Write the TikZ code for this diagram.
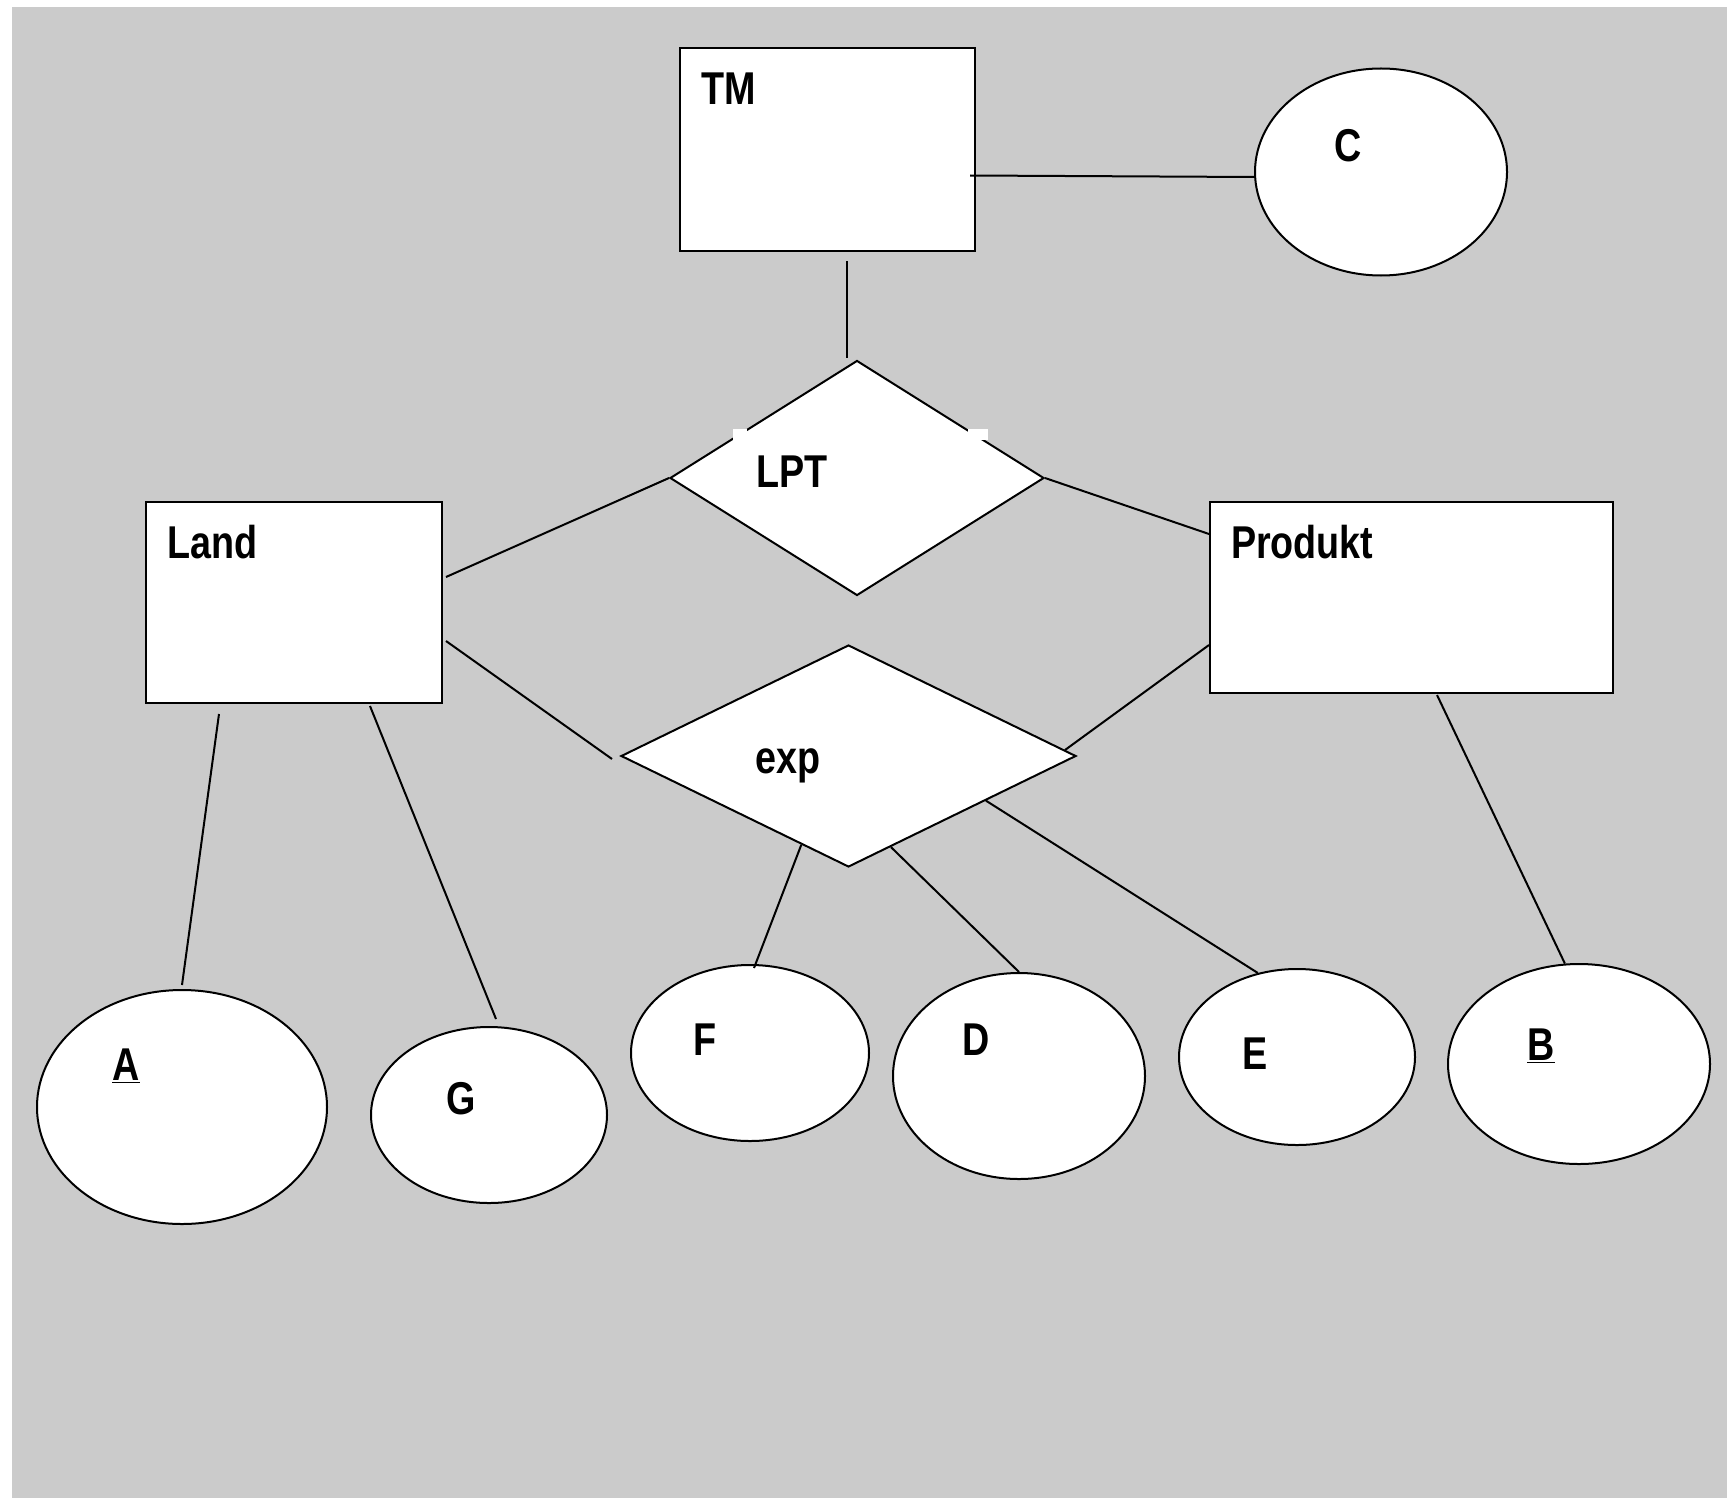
\documentclass[tikz,border=0pt]{standalone}
\usepackage{fontspec}
\newfontfamily\erfont{Liberation Sans}[FakeStretch=0.82]
\usetikzlibrary{shapes.geometric}
\definecolor{bggray}{HTML}{CBCBCB}
\tikzset{
  entity/.style={draw, fill=white, rectangle, inner sep=0pt},
  relation/.style={draw, fill=white, diamond, inner sep=0pt},
  attrib/.style={draw, fill=white, ellipse, inner sep=0pt},
  lbl/.style={inner sep=0pt, font=\erfont\bfseries\fontsize{23pt}{27pt}\selectfont}
}
\begin{document}
\begin{tikzpicture}[x=0.5pt, y=-0.5pt, line width=1pt]
\useasboundingbox (0,0) rectangle (1727,1498);
\fill[white] (0,0) rectangle (1727,1498);
\fill[bggray] (12,7) rectangle (1727,1498);

\node[entity, minimum width=147.5pt, minimum height=101.5pt] (TM) at (827.5,149.5) {};
\node[entity, minimum width=148pt, minimum height=100.5pt] (Land) at (294,602.5) {};
\node[entity, minimum width=201.5pt, minimum height=95.5pt] (Produkt) at (1411.5,597.5) {};
\node[relation, minimum width=187pt, minimum height=117.5pt] (LPT) at (857,478) {};
\node[relation, minimum width=227.5pt, minimum height=111pt] (exp) at (848.5,756) {};
\node[attrib, minimum width=126pt, minimum height=103.5pt] (C) at (1381,172) {};
\node[attrib, minimum width=145pt, minimum height=117pt] (A) at (182,1107) {};
\node[attrib, minimum width=118pt, minimum height=88pt] (G) at (489,1115) {};
\node[attrib, minimum width=119pt, minimum height=88pt] (F) at (750,1053) {};
\node[attrib, minimum width=126pt, minimum height=103pt] (D) at (1019,1076) {};
\node[attrib, minimum width=118pt, minimum height=88pt] (E) at (1297,1057) {};
\node[attrib, minimum width=131pt, minimum height=100pt] (B) at (1579,1064) {};

\fill[white] (733,429) rectangle (747,440);
\fill[white] (968,429) rectangle (988,440);

\node[lbl, anchor=base west] (tTM) at (700,105) {TM};
\node[lbl, anchor=base] (tC) at (1348,162) {C};
\node[lbl, anchor=base] (tLPT) at (792,487) {LPT};
\node[lbl, anchor=base west] (tLand) at (166,558) {Land};
\node[lbl, anchor=base west] (tProdukt) at (1230,558) {Produkt};
\node[lbl, anchor=base] (texp) at (788,773) {exp};
\node[lbl, anchor=base] (tA) at (126,1080) {\underline{A}};
\node[lbl, anchor=base] (tG) at (461.5,1114) {G};
\node[lbl, anchor=base] (tF) at (705,1055) {F};
\node[lbl, anchor=base] (tD) at (976,1055) {D};
\node[lbl, anchor=base] (tE) at (1255.5,1069) {E};
\node[lbl, anchor=base] (tB) at (1541,1060) {\underline{B}};

\draw ([shift={(-3pt,-13pt)}]TM.east) -- ([yshift=-2.5pt]C.west);
\draw ([shift={(9.75pt,-4.5pt)}]TM.south) -- ([xshift=-5pt,yshift=1pt]LPT.north);
\draw (LPT.west) -- ([shift={(1.5pt,12.75pt)}]Land.east);
\draw (LPT.east) -- ([yshift=-16.5pt]Produkt.north west);
\draw ([shift={(1.5pt,-19.25pt)}]Land.east) -- ([shift={(-4pt,-1.5pt)}]exp.west);
\draw ([yshift=-23.75pt]Produkt.west) -- ([shift={(-6pt,3pt)}]exp.east);
\draw (exp.242) -- ([shift={(2pt,-2pt)}]F.north);
\draw (exp.295) -- (D.north);
\draw (exp.342) -- (E.115);
\draw ([shift={(12.75pt,-0.5pt)}]Produkt.south) -- (B.98);
\draw ([shift={(-37.5pt,-5pt)}]Land.south) -- ([yshift=2pt]A.north);
\draw ([shift={(38pt,-1pt)}]Land.south) -- ([shift={(3.5pt,3.5pt)}]G.north);
\end{tikzpicture}
\end{document}
